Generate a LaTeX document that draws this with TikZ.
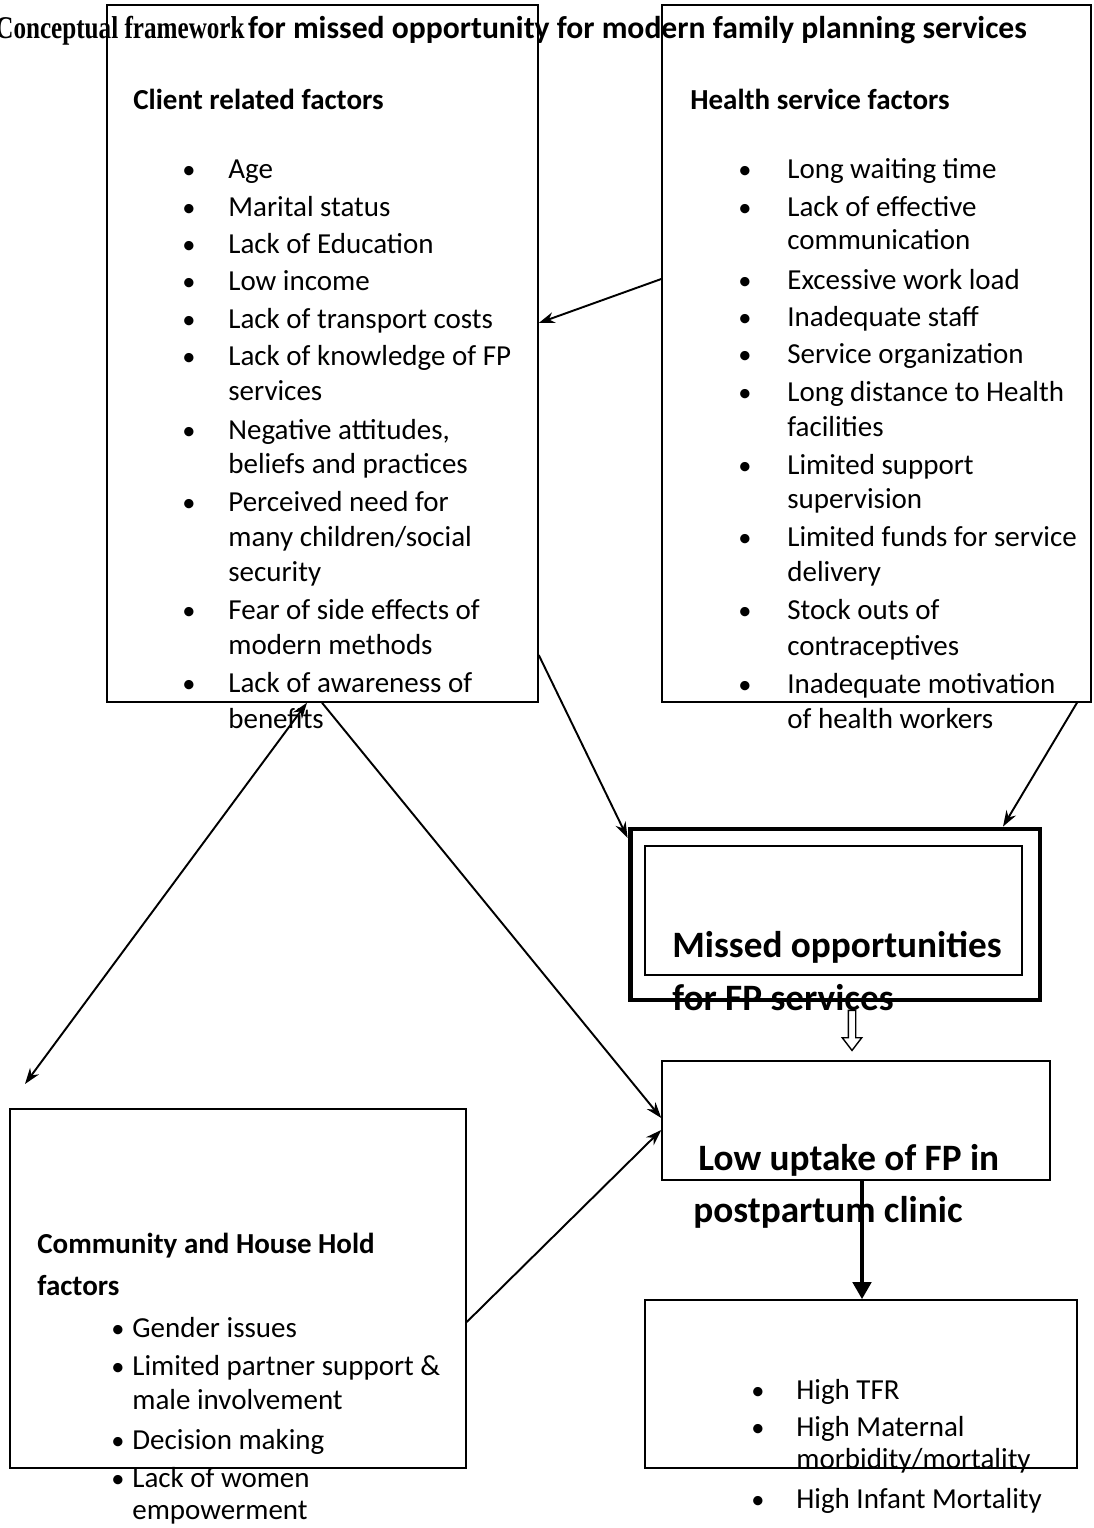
\documentclass[tikz,border=0pt]{standalone}
\usepackage{fontspec}
\setmainfont{Carlito}
\newfontfamily\titleserif{Liberation Serif}
\usetikzlibrary{arrows.meta,shapes.arrows}

\begin{document}
\begin{tikzpicture}[x=0.02cm,y=-0.02cm,
  box/.style={draw,line width=0.9pt,inner sep=0pt},
  item/.style={anchor=base west,inner sep=0pt,font=\fontsize{16.5}{19}\selectfont},
  bul/.style={anchor=base,inner sep=0pt,font=\fontsize{15}{19}\selectfont},
  head/.style={anchor=base west,inner sep=0pt,font=\fontsize{16.5}{19}\selectfont\bfseries},
  big/.style={anchor=base west,inner sep=0pt,font=\fontsize{21.2}{24}\selectfont\bfseries},
  link/.style={line width=1.1pt,-{Stealth[length=3.2mm,width=2.2mm]}}]

  \useasboundingbox (0,0) rectangle (1093,1528);

  % boxes
  \node[box,minimum width=8.62cm,minimum height=13.94cm] (client) at (322.5,353.5) {};
  \node[box,minimum width=8.58cm,minimum height=13.94cm] (health) at (876.5,353.5) {};
  \node[box,line width=2.8pt,minimum width=8.2cm,minimum height=3.42cm] (missed) at (835,914.5) {};
  \node[box,minimum width=7.54cm,minimum height=2.58cm] (missedin) at (833.5,910.5) {};
  \node[box,minimum width=7.76cm,minimum height=2.38cm] (uptake) at (856,1120.5) {};
  \node[box,minimum width=8.64cm,minimum height=3.36cm] (outcome) at (861,1384) {};
  \node[box,minimum width=9.12cm,minimum height=7.18cm] (community) at (238,1288.5) {};

  % title
  \node[anchor=base west,inner sep=0pt] (title) at (-5,38)
    {\scalebox{0.795}[1]{\fontsize{18}{21}\titleserif\bfseries Conceptual framework}\hspace{2pt}{\fontsize{18}{21}\selectfont\bfseries for missed opportunity for modern family planning services}};

  % client related factors
  \node[head] (clienthead) at (133,109) {Client related factors};
  \foreach \y in {178,216,253,290,328,365,439,511,619,692}
    \node[bul] (cb\y) at (189,\y) {\textbullet};
  \foreach \y/\t in {178/Age,216/Marital status,253/Lack of Education,290/Low income,
      328/Lack of transport costs,365/Lack of knowledge of FP,400/services,
      439/{Negative attitudes,},473/beliefs and practices,511/Perceived need for,
      546/{many children/social},581/security,619/Fear of side effects of,
      654/modern methods,692/Lack of awareness of,728/benefits}
    \node[item] (ct\y) at (228,\y) {\t};

  % health service factors
  \node[head] (healthhead) at (690,109) {Health service factors};
  \foreach \y in {178,216,289,326,363,401,474,546,619,693}
    \node[bul] (hb\y) at (745,\y) {\textbullet};
  \foreach \y/\t in {178/Long waiting time,216/Lack of effective,249/communication,
      289/Excessive work load,326/Inadequate staff,363/Service organization,
      401/Long distance to Health,436/facilities,474/Limited support,508/supervision,
      546/Limited funds for service,581/delivery,619/Stock outs of,
      655/contraceptives,693/Inadequate motivation,728/of health workers}
    \node[item] (ht\y) at (787,\y) {\t};

  % missed opportunities
  \node[big] (missedt1) at (672,957) {Missed opportunities};
  \node[big] (missedt2) at (672,1010) {for FP services};

  % low uptake
  \node[big] (uptaket1) at (698,1170) {Low uptake of FP in};
  \node[big] (uptaket2) at (693,1222) {postpartum clinic};

  % community and house hold
  \node[head] (commhead1) at (37,1253) {Community and House Hold};
  \node[head] (commhead2) at (37,1295) {factors};
  \foreach \y in {1337,1375,1449,1487}
    \node[bul] (mb\y) at (118,\y) {\textbullet};
  \foreach \y/\t in {1337/Gender issues,1375/Limited partner support \&,
      1409/male involvement,1449/Decision making,1487/Lack of women,1519/empowerment}
    \node[item] (mt\y) at (132,\y) {\t};

  % outcomes
  \foreach \y in {1399,1436,1508}
    \node[bul] (ob\y) at (758,\y) {\textbullet};
  \foreach \y/\t in {1399/High TFR,1436/High Maternal,1468/{morbidity/mortality},
      1508/High Infant Mortality}
    \node[item] (ot\y) at (796,\y) {\t};

  % connectors
  \coordinate (commarrow) at (25,1084);
  \draw[link] (health.west |- 0,279) -- (client.east |- 0,323);
  \draw[link] (client.east |- 0,655) -- (missed.west |- 0,838);
  \draw[link] (health.south -| 1077,0) -- (missed.north -| 1003,0);
  \draw[link,{Stealth[length=3.2mm,width=2.2mm]}-{Stealth[length=3.2mm,width=2.2mm]}]
    (client.south -| 307,0) -- (commarrow);
  \draw[link] (client.south -| 322,0) -- (uptake.west |- 0,1118);
  \draw[link] (community.east |- 0,1322) -- (uptake.west |- 0,1130);
  \node[draw,fill=white,single arrow,shape border rotate=270,minimum height=0.8cm,
    inner sep=0.06cm,single arrow head extend=0.12cm,single arrow tip angle=75,
    line width=0.8pt] (hollow) at (852,1028) {};
  \draw[line width=2.8pt,-{Triangle[length=3.4mm,width=3.6mm]}]
    (uptake.south -| 862,0) -- (outcome.north -| 862,0);
\end{tikzpicture}
\end{document}
